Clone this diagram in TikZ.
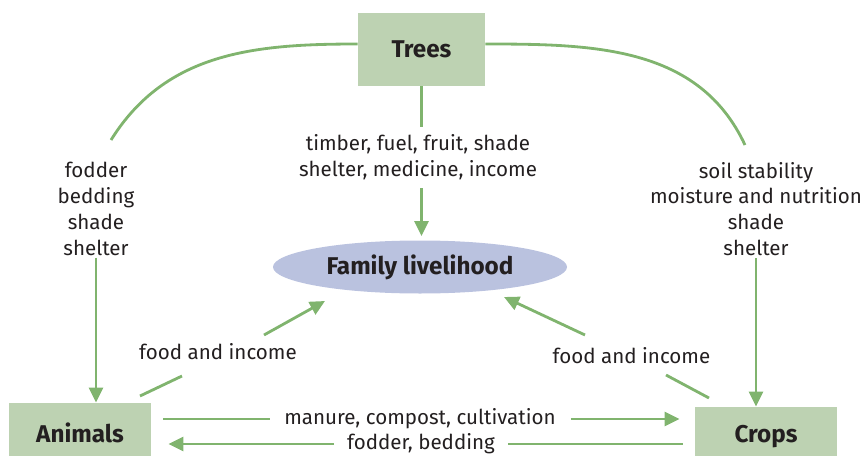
\documentclass[tikz,border=0pt]{standalone}
\usepackage{fontspec}
\setmainfont{Fira Sans}
\usepackage{xcolor}
\usepackage{tikz}
\usetikzlibrary{shapes.geometric, arrows.meta}
\definecolor{agbox}{RGB}{189, 210, 178}
\definecolor{agline}{RGB}{128, 180, 110}
\definecolor{agoval}{RGB}{186, 194, 223}
\definecolor{agtext}{RGB}{35, 31, 32}

\tikzset{
  partbox/.style={fill=agbox, minimum width=2.84cm, minimum height=1.2cm, font=\fontsize{13.8}{16}\selectfont\bfseries, text=agtext},
  flowtext/.style={align=center, font=\fontsize{11.7}{14.7}\selectfont, text=agtext, inner sep=1pt},
  link/.style={draw=agline, line width=1.6pt},
  linkarrow/.style={link, -{Triangle[length=0.3cm, width=0.28cm]}}
}

\begin{document}
\begin{tikzpicture}[scale=1]
\useasboundingbox (0,0) rectangle (17.28,-9.12);

% Main parts
\node[partbox, minimum width=2.54cm, minimum height=1.46cm] (trees) at (8.43,-0.99) {Trees};
\node[ellipse, fill=agoval, minimum width=5.88cm, minimum height=1.06cm, inner sep=1pt, font=\fontsize{13.8}{16}\selectfont\bfseries, text=agtext] (family) at (8.4,-5.34) {Family livelihood};
\node[partbox] (animals) at (1.6,-8.66) {Animals};
\node[partbox] (crops) at (15.32,-8.74) {Crops};

% Labels
\node[flowtext] (lblTreeAnim) at (1.92,-4.18) {fodder\\bedding\\shade\\shelter};
\node[flowtext] (lblTreeFam) at (8.36,-3.15) {timber, fuel, fruit, shade\\shelter, medicine, income};
\node[flowtext] (lblTreeCrop) at (15.12,-4.18) {soil stability\\moisture and nutrition\\shade\\shelter};
\node[flowtext] (lblAnimFam) at (4.36,-7.04) {food and income};
\node[flowtext] (lblCropFam) at (12.63,-7.12) {food and income};
\node[flowtext] (lblManure) at (8.4,-8.38) {manure, compost, cultivation};
\node[flowtext] (lblFodder) at (8.42,-8.88) {fodder, bedding};

% Free ends
\coordinate (arcL) at (2.22,-2.8);
\coordinate (arcR) at (14.9,-2.9);
\coordinate (animUp) at (2.8,-7.92);
\coordinate (animUpEnd) at (3.64,-7.52);
\coordinate (famLtail) at (5.28,-6.7);
\coordinate (famLtip) at (6.5,-6.02);
\coordinate (cropUp) at (14.18,-7.96);
\coordinate (cropUpEnd) at (13.32,-7.5);
\coordinate (famRtail) at (11.7,-6.7);
\coordinate (famRtip) at (10.08,-5.94);

% Trees to animals and crops
\draw[link] ([yshift=0.11cm]trees.west) to[out=180, in=58] (arcL);
\draw[link] ([yshift=0.11cm]trees.east) to[out=0, in=115] (arcR);
\draw[linkarrow] (lblTreeAnim.south) -- (lblTreeAnim.south |- animals.north);
\draw[linkarrow] (lblTreeCrop.south) -- (lblTreeCrop.south |- crops.north);

% Trees to family
\draw[link, shorten >=0.12cm] (trees.south) -- (trees.south |- lblTreeFam.north);
\draw[linkarrow, shorten <=0.12cm, shorten >=0.08cm] (trees.south |- lblTreeFam.south) -- (trees.south |- family.north);

% Food and income
\draw[link] (animUp) -- (animUpEnd);
\draw[linkarrow] (famLtail) -- (famLtip);
\draw[link] (cropUp) -- (cropUpEnd);
\draw[linkarrow] (famRtail) -- (famRtip);

% Animals and crops
\draw[link, shorten <=0.24cm, shorten >=0.24cm] (lblManure.west -| animals.east) -- (lblManure.west);
\draw[linkarrow, shorten <=0.26cm, shorten >=0.3cm] (lblManure.east) -- (lblManure.east -| crops.west);
\draw[link, shorten <=0.24cm, shorten >=0.22cm] (lblFodder.east -| crops.west) -- (lblFodder.east);
\draw[linkarrow, shorten <=0.22cm, shorten >=0.34cm] (lblFodder.west) -- (lblFodder.west -| animals.east);
\end{tikzpicture}
\end{document}
